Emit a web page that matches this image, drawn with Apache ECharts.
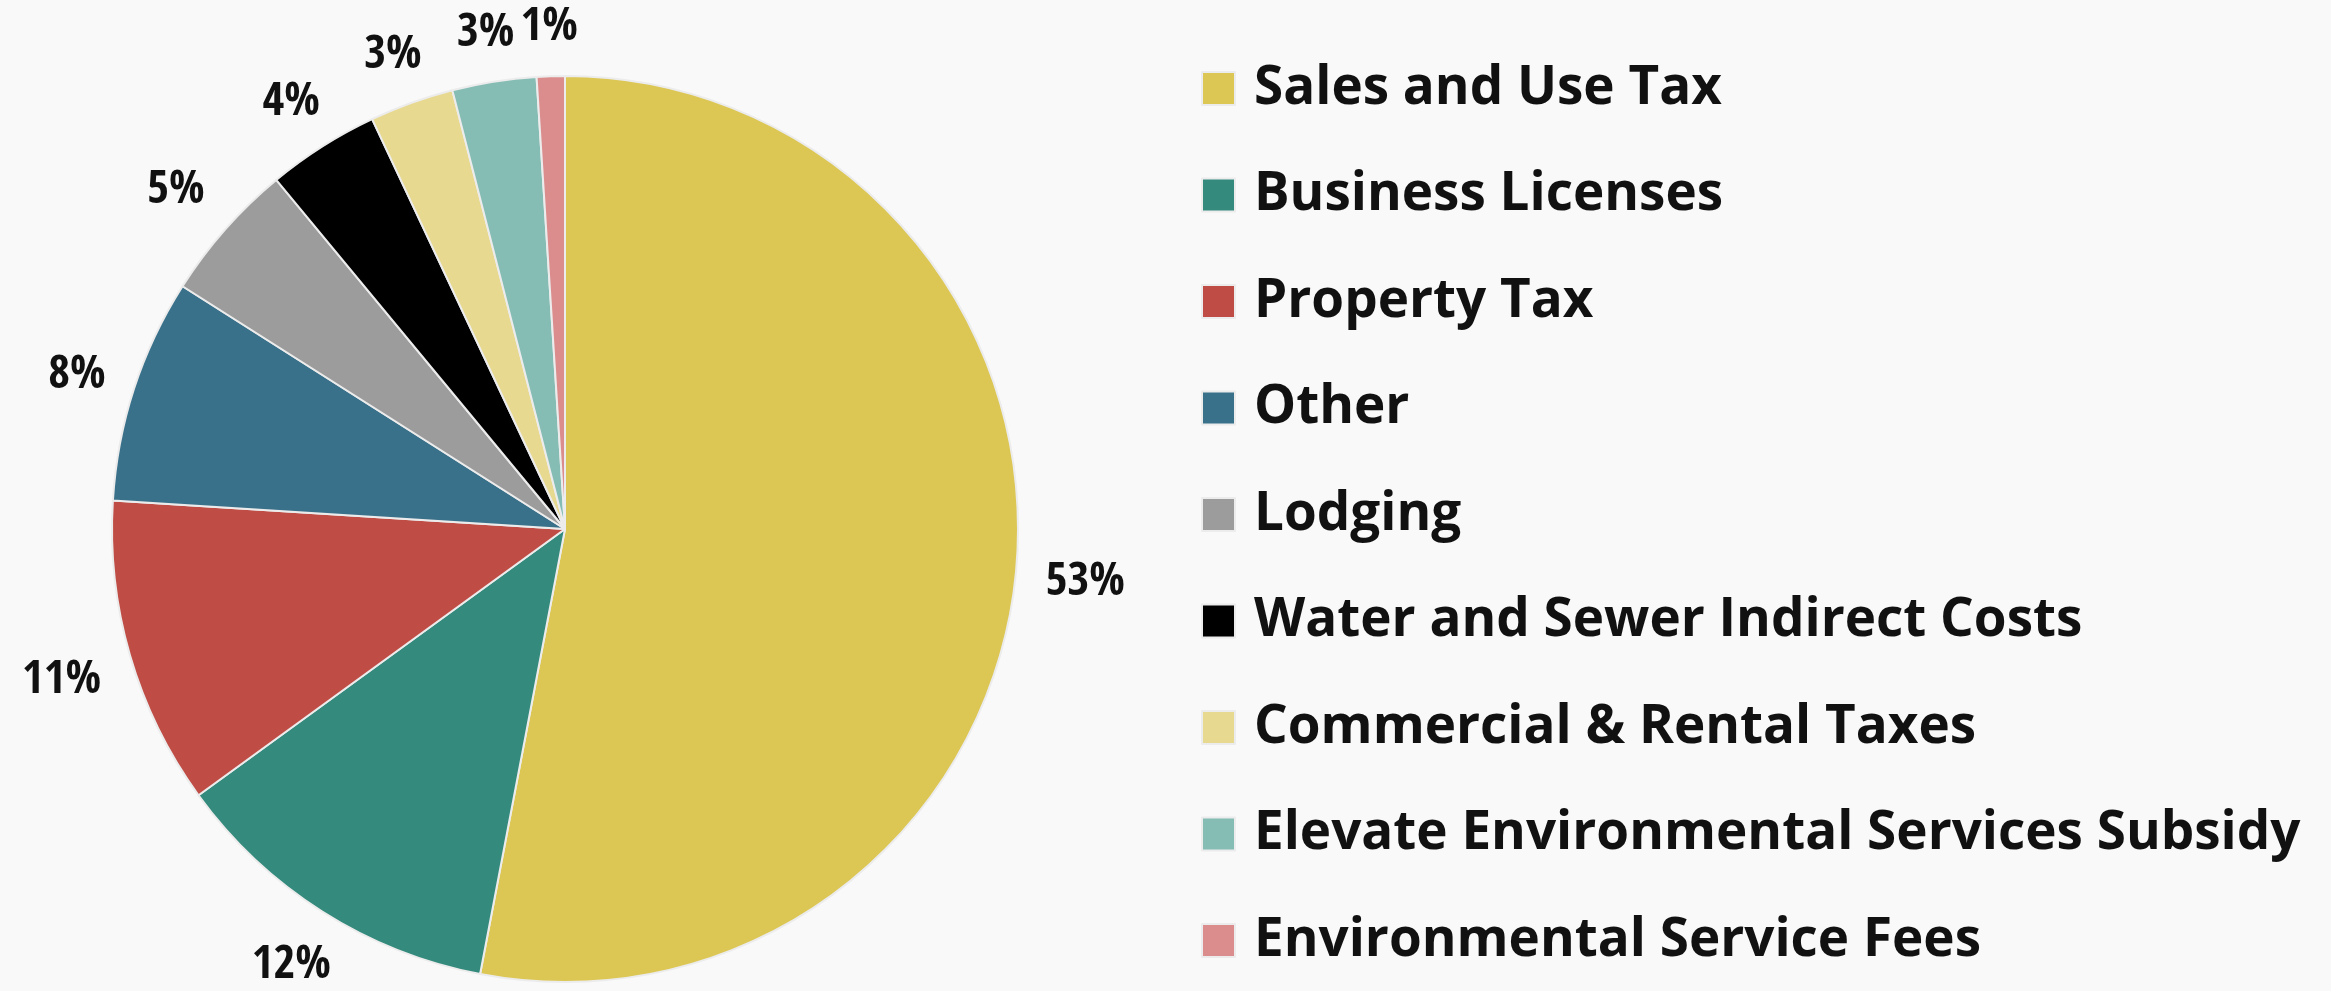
<!DOCTYPE html>
<html>
<head>
<meta charset="utf-8">
<script src="https://cdn.jsdelivr.net/npm/echarts@6/dist/echarts.min.js"></script>
<style>
  html, body { margin: 0; padding: 0; background: #f9f9f9; }
  #chart { width: 2331px; height: 991px; }
</style>
</head>
<body>
<div id="chart"></div>
<script>
// Revenue sources, share of total (%)
const categories = [
  'Sales and Use Tax',
  'Business Licenses',
  'Property Tax',
  'Other',
  'Lodging',
  'Water and Sewer Indirect Costs',
  'Commercial & Rental Taxes',
  'Elevate Environmental Services Subsidy',
  'Environmental Service Fees'
];
const shares = [53, 12, 11, 8, 5, 4, 3, 3, 1];
const palette = [
  '#dcc654', '#348a7c', '#bf4d45', '#3a718a', '#9c9c9c',
  '#000000', '#e8d991', '#85bcb4', '#db8d8d'
];

const pieData = categories.map((name, i) => ({
  name: name,
  value: shares[i],
  itemStyle: { color: palette[i] }
}));

// Push each percentage label outward along its slice's radial guide line
// so that the side of the label nearest the pie touches the guide's end.
// A small downward nudge compensates for the font's descender space.
function placeOutsideEnd(params) {
  const pts = params.labelLinePoints;
  if (!pts || pts.length < 2) return {};
  const p0 = pts[0], p1 = pts[1];
  const vx = p1[0] - p0[0], vy = p1[1] - p0[1];
  const len = Math.hypot(vx, vy) || 1;
  const ux = vx / len, uy = vy / len;
  const hw = params.labelRect.width / 2;
  const hh = params.labelRect.height / 2;
  const tx = Math.abs(ux) > 1e-6 ? hw / Math.abs(ux) : Infinity;
  const ty = Math.abs(uy) > 1e-6 ? hh / Math.abs(uy) : Infinity;
  const t = Math.min(tx, ty);
  return {
    x: p1[0] + ux * t,
    y: p1[1] + uy * t + 5,
    align: 'center',
    verticalAlign: 'middle'
  };
}

const chart = echarts.init(document.getElementById('chart'));
chart.setOption({
  backgroundColor: '#f9f9f9',
  animation: false,
  legend: {
    orient: 'vertical',
    left: 1201,
    top: 62,
    padding: 0,
    itemWidth: 33,
    itemHeight: 33,
    itemGap: 53.5,
    icon: 'rect',
    selectedMode: false,
    data: categories,
    textStyle: {
      fontFamily: '"Open Sans", sans-serif',
      fontWeight: 'bold',
      fontSize: 53,
      color: '#111111',
      padding: [0, 0, 0, 14]
    }
  },
  series: [
    {
      name: 'Revenue',
      type: 'pie',
      center: [565, 529],
      radius: 453,
      startAngle: 90,
      clockwise: true,
      silent: true,
      avoidLabelOverlap: false,
      itemStyle: { borderColor: '#ececec', borderWidth: 2 },
      label: {
        show: true,
        position: 'outside',
        formatter: (p) => p.value + '%',
        fontFamily: '"Open Sans Condensed", "Noto Sans Condensed", "Roboto Condensed", "Liberation Sans Narrow", "Open Sans", sans-serif',
        fontWeight: 'bold',
        fontSize: 47,
        color: '#111111'
      },
      labelLine: {
        show: true,
        length: 30,
        length2: 0,
        lineStyle: { opacity: 0 }
      },
      labelLayout: placeOutsideEnd,
      data: pieData
    }
  ]
});
</script>
</body>
</html>
